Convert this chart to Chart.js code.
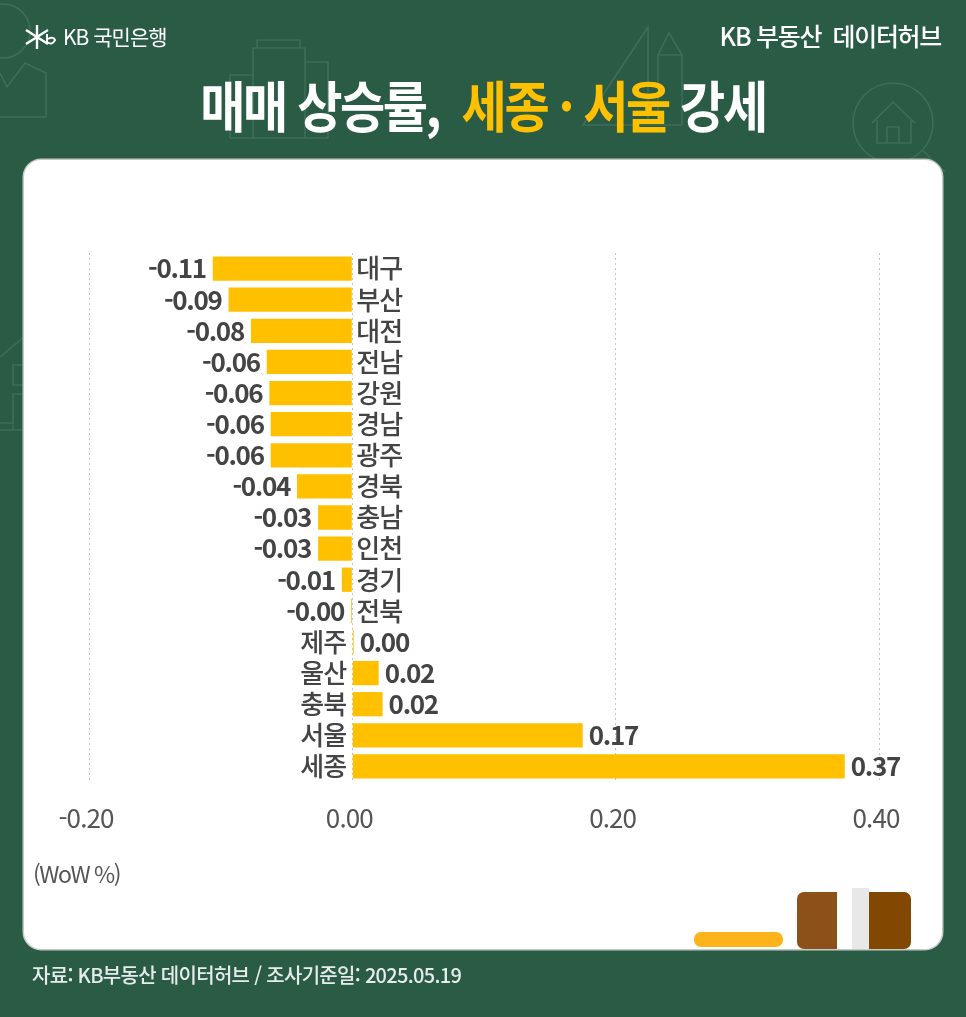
<!DOCTYPE html>
<html lang="ko">
<head>
<meta charset="utf-8">
<title>매매 상승률</title>
<script src="https://cdn.jsdelivr.net/npm/chart.js@4"></script>
<style>
html, body { margin: 0; padding: 0; }
body { width: 966px; height: 1017px; position: relative; overflow: hidden; background: #2a5b45; font-family: "Noto Sans CJK KR", "Noto Sans", sans-serif; }
.txt { position: absolute; white-space: nowrap; line-height: 1; }
#decor { position: absolute; left: 0; top: 0; }
#card { position: absolute; left: 24px; top: 160px; width: 918px; height: 789px; background: #fff; border-radius: 17px; box-shadow: 0 0 0 1.5px #c4cac6; }
#stack { position: absolute; left: 0; top: 0; }
#myChart { position: absolute; left: 0; top: 0; }
</style>
</head>
<body>
<svg id="decor" width="966" height="1017" fill="none" stroke="#3e6d58" stroke-width="1.6">
  <!-- faint icons behind the title -->
  <circle cx="3" cy="31" r="27"/>
  <path d="M0 73 L7 87 L25 63 L46 73 V117 H0"/>
  <path d="M257 48 V40 H300 V48 M253 138 V48 H305 V138 M305 62 H328 V138 M230 138 V75 H253 M230 138 H328"/>
  <path d="M648 27 V125 H583 Z M648 125 H682 M658 125 V55 L669 33 L682 55 V125 M658 55 H682"/>
  <circle cx="893" cy="123" r="40"/>
  <path d="M872 123 L893 102 L915 123 M877 120 V143 H911 V120 M887 143 V127 H899 V143 M922 150 L945 172"/>
  <path d="M0 357 L24 337 M24 365 H13 V385 H24 M24 394 H13 V430 M0 430 H24 M0 423 H13"/>
</svg>
<div id="card"></div>
<svg id="stack" width="966" height="1017">
  <rect x="694" y="932" width="89" height="15" rx="7" fill="#ffb31a"/>
  <rect x="797" y="892" width="50" height="57" rx="7" fill="#8b5119"/>
  <rect x="859" y="892" width="52" height="57" rx="7" fill="#824701"/>
  <rect x="837" y="888" width="15" height="61" fill="#fff"/>
  <rect x="852" y="888" width="17" height="61" fill="#e8e8e8"/>
</svg>
<canvas id="myChart" width="966" height="1017"></canvas>

<svg style="position:absolute;left:25px;top:24px" width="34" height="26" fill="none" stroke="#fff" stroke-width="2.4">
  <path d="M1 6 L23 20 M1 20 L23 6 M12 1 V25"/>
  <path d="M22 10 V18 Q27 22 30 16 Q28 12 23 15" stroke-width="2"/>
</svg>
<div class="txt" style="left:63px;top:26px;font-size:21px;color:#fff;letter-spacing:-1px">KB 국민은행</div>
<div class="txt" style="right:25px;top:23px;font-size:25px;font-weight:500;color:#fff;letter-spacing:-1.3px">KB 부동산&nbsp; 데이터허브</div>
<div class="txt" style="left:0;width:966px;text-align:center;top:76px;font-size:55px;font-weight:700;color:#fff;letter-spacing:-2.8px;transform:scaleX(0.895)">매매 상승률, <span style="color:#ffc000">&nbsp;세종 · 서울</span> 강세</div>
<div class="txt" style="left:33px;top:862px;font-size:23px;color:#555;letter-spacing:-1.5px">(WoW %)</div>
<div class="txt" style="left:32px;top:965px;font-size:20px;font-weight:500;color:#e6ece9;letter-spacing:-0.7px">자료: KB부동산 데이터허브 / 조사기준일: 2025.05.19</div>

<script>
const categories = ["대구", "부산", "대전", "전남", "강원", "경남", "광주", "경북", "충남", "인천", "경기", "전북", "제주", "울산", "충북", "서울", "세종"];
const values = [-0.106, -0.094, -0.077, -0.065, -0.063, -0.062, -0.062, -0.042, -0.026, -0.026, -0.008, -0.001, 0.001, 0.02, 0.023, 0.175, 0.374];
const valueLabels = ["-0.11", "-0.09", "-0.08", "-0.06", "-0.06", "-0.06", "-0.06", "-0.04", "-0.03", "-0.03", "-0.01", "-0.00", "0.00", "0.02", "0.02", "0.17", "0.37"];
const tickLabels = ["-0.20", "0.00", "0.20", "0.40"];

const fontName = '"Noto Sans CJK KR", "Noto Sans", sans-serif';

// narrower text on the ticks, same as the labels
const tightText = {
    id: "tightText",
    beforeDraw(chart) { chart.ctx.letterSpacing = "-0.9px"; }
};

// labels on both sides of each bar, they follow the scales
const barLabels = {
    id: "barLabels",
    afterDatasetsDraw(chart) {
        const ctx = chart.ctx;
        const zero = chart.scales.x.getPixelForValue(0);
        const bars = chart.getDatasetMeta(0).data;
        ctx.save();
        ctx.textBaseline = "middle";
        ctx.fillStyle = "#444444";
        bars.forEach((bar, i) => {
            const negative = values[i] < 0;
            ctx.letterSpacing = "-0.9px";
            ctx.font = "500 26px " + fontName;
            ctx.textAlign = negative ? "left" : "right";
            ctx.fillText(categories[i], zero + (negative ? 4 : -6), bar.y);
            ctx.letterSpacing = "-1.3px";
            ctx.font = "700 26px " + fontName;
            ctx.textAlign = negative ? "right" : "left";
            ctx.fillText(valueLabels[i], bar.x + (negative ? -7 : 6), bar.y);
        });
        ctx.restore();
    }
};

const myChart = new Chart(document.getElementById("myChart").getContext("2d"), {
    type: "bar",
    data: {
        labels: categories,
        datasets: [{
            data: values,
            backgroundColor: "#ffc000",
            barPercentage: 0.78,
            categoryPercentage: 1
        }]
    },
    plugins: [tightText, barLabels],
    options: {
        indexAxis: "y",
        responsive: false,
        animation: false,
        layout: { padding: { left: 89, right: 87, top: 253, bottom: 180 } },
        plugins: { legend: { display: false }, tooltip: { enabled: false } },
        scales: {
            x: {
                min: -0.2,
                max: 0.4,
                afterBuildTicks(axis) {
                    axis.ticks = tickLabels.map(t => ({ value: parseFloat(t) }));
                },
                afterFit(axis) { axis.height = 55; },
                border: { display: false, dash: [2, 3] },
                grid: { color: "#c4c4c4", drawTicks: false, lineWidth: 1 },
                ticks: {
                    padding: 21,
                    labelOffset: -3,
                    maxRotation: 0,
                    autoSkip: false,
                    color: "#555555",
                    font: { family: fontName, size: 26 },
                    callback: (v, i) => tickLabels[i]
                }
            },
            y: { display: false }
        }
    }
});
</script>
</body>
</html>
